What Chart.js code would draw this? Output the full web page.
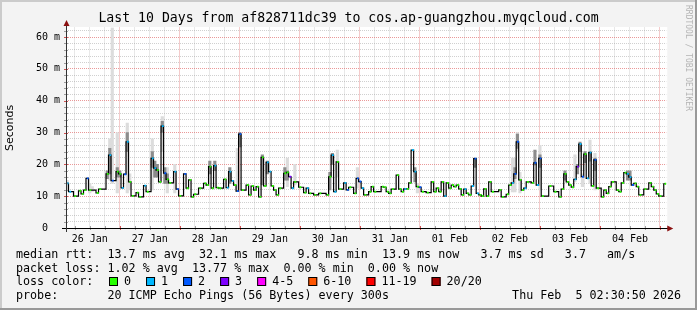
<!DOCTYPE html>
<html><head><meta charset="utf-8">
<script src="https://cdn.jsdelivr.net/npm/chart.js@4.4.1/dist/chart.umd.min.js"></script>
<style>html,body{margin:0;padding:0;background:#f3f3f3;}canvas{display:block;}</style>
</head><body><canvas id="c" width="697" height="310"></canvas>
<script>
// ---- data ----
const dayLabels = ['26 Jan','27 Jan','28 Jan','29 Jan','30 Jan','31 Jan','01 Feb','02 Feb','03 Feb','04 Feb'];
const yLabels = ['0  ','10 m','20 m','30 m','40 m','50 m','60 m'];
// hourly median RTT (ms), first slot starts 26 Jan 02:30
const median = [
14.0,11.4,11.4,10.0,10.0,11.7,10.7,11.9,15.6,11.9,
11.9,11.9,11.0,12.2,12.2,12.2,17.0,22.9,14.9,14.9,
17.7,17.0,12.6,16.9,27.1,14.5,10.1,10.1,11.1,9.8,
9.8,13.3,11.4,11.4,21.9,18.8,18.2,14.5,32.0,17.2,
15.3,14.2,14.2,17.7,12.2,10.1,10.1,17.0,12.5,15.1,
9.8,10.6,10.6,12.5,12.5,14.0,13.5,19.3,12.5,19.6,
12.7,12.5,12.5,15.3,12.7,17.7,14.8,13.5,11.6,29.5,
11.9,11.9,13.5,10.4,13.2,11.9,13.0,9.8,22.2,13.2,
20.6,17.7,13.2,11.9,10.4,12.5,12.5,17.2,17.5,16.1,
12.5,14.5,14.5,12.8,12.8,11.1,12.5,10.9,10.9,10.4,
10.4,10.9,10.9,10.9,10.4,16.1,22.9,11.4,20.8,12.2,
12.2,14.2,12.0,12.8,12.8,10.9,15.6,14.6,12.5,10.4,
10.4,11.4,13.0,11.4,11.4,11.4,13.0,12.8,11.4,10.9,
12.2,12.2,16.6,12.2,11.4,12.3,12.3,14.2,24.5,17.7,
13.0,12.8,11.4,11.4,11.1,11.1,14.5,11.4,12.5,11.4,
14.5,10.0,14.2,12.5,13.5,13.0,13.5,12.3,10.4,12.2,
10.9,10.4,13.2,21.8,10.9,10.4,10.0,12.3,10.0,14.5,
11.4,11.4,11.4,12.0,9.8,9.8,10.6,13.5,14.2,17.0,
27.1,15.1,11.9,12.5,14.5,14.5,14.2,20.5,13.5,21.9,
10.0,10.0,10.0,13.2,13.2,11.4,11.4,9.8,12.2,17.0,
14.5,13.5,12.8,15.3,19.3,26.4,16.1,23.2,15.6,23.7,
13.2,21.4,12.5,12.5,9.8,11.9,10.9,13.0,14.5,14.5,
11.9,11.4,14.2,17.4,17.0,16.0,13.5,14.0,13.0,10.4,
10.4,12.2,12.2,14.2,13.0,11.9,10.7,10.0,10.0,13.9];
// light smoke (full ping spread)
const lightSlots = [0,9,10,17,18,20,24,25,34,38,40,43,68,88,91,108,116,140,178,179,180,181,189,203,206,209,211];
const lightLo    = [12,11,11.5,15,14,11,11,12,12,24,11,11,12,13,13.5,16,12.5,11,11.3,11.3,24,11,12,14.5,13,14,12];
const lightHi    = [15,14,13,28,63,30,33,17,28,35,19,20,25,22,20,24.5,19,14,22,22,30,17.5,26,23,17,27.6,23.5];
// dark smoke (pings close to the median)
const darkSlots = [16,17,20,21,24,34,35,36,38,39,40,57,59,65,69,78,80,87,88,105,106,139,163,179,180,187,189,199,204,205,207,209,211,224,225];
const darkLo    = [15.5,17,16,16,24,19,16,16,30,14,14,17,18,14,25.5,13.5,17,15,15,12,20,14.5,19,15.5,25,19.8,19,15,17,24,20.5,21,18,15,15];
const darkHi    = [18,25,19,18,30,24,21,20,33.5,19,17,21,21,19,30,23,21,19,18,17.5,23.5,19,22,19,29.5,24.5,23,18,20,27,24,24,22,18,18];
// loss class per slot (others are 0)
const lossSlots  = [0,1,2,8,17,18,19,22,23,24,31,34,35,38,39,43,44,47,59,64,65,66,68,69,80,81,89,90,96,106,107,111,112,116,117,118,135,138,139,141,151,159,162,163,164,178,179,180,183,187,188,189,203,204,205,206,208,209,211,224,225,226];
const lossLevels = [1,1,1,2,1,2,2,1,2,1,1,1,1,1,2,1,2,2,1,1,1,1,2,2,1,1,3,1,1,1,1,1,2,2,2,1,1,1,1,2,1,1,1,2,1,1,2,2,1,2,1,2,1,3,1,2,1,1,2,1,1,2];
const lossLabels = ['0','1','2','3','4-5','6-10','11-19','20/20'];
const lossColors = ['#26ff00','#00b8ff','#0059ff','#7e00ff','#ff00ff','#ff5500','#ff0000','#a10000'];

const startHour = 2.5;   // hours after 26 Jan 00:00
const endHour = 242.5;
const xTicks = []; for (let h = 6; h <= 240; h += 6) xTicks.push(h);
const yTicks = []; for (let v = 0; v <= 62; v += 2) yTicks.push(v);

// ---- build datasets ----
const lossOf = new Array(median.length).fill(0);
lossSlots.forEach((s, i) => { lossOf[s] = lossLevels[i]; });
const lineData = median.map((v, j) => ({x: startHour + j, y: v}));
lineData.push({x: endHour, y: median[median.length - 1]});
const markers = [], markerColors = [];
median.forEach((v, j) => {
  if (j === 0 || v !== median[j - 1] || lossOf[j] !== lossOf[j - 1]) {
    markers.push({x: startHour + j + 0.7, y: v});
    markerColors.push(lossColors[lossOf[j]]);
  }
});
const lightData = lightSlots.map((s, i) => ({x: startHour + s + 0.5, y: [lightLo[i], lightHi[i]]}));
const darkData = darkSlots.map((s, i) => ({x: startHour + s + 0.5, y: [darkLo[i], darkHi[i]]}));

const MONO = '"DejaVu Sans Mono"';
const majorGrid = 'rgba(225,110,110,0.7)';
const minorGrid = 'rgba(150,150,150,0.45)';

const framePlugin = {
  id: 'frame',
  beforeDraw(chart) {
    const ctx = chart.ctx, a = chart.chartArea;
    ctx.save();
    ctx.fillStyle = '#f3f3f3';
    ctx.fillRect(0, 0, chart.width, chart.height);
    ctx.fillStyle = '#ffffff';
    ctx.fillRect(a.left, 27, a.right - a.left + 1, a.bottom - 27);
    ctx.restore();
  },
  afterDraw(chart) {
    const ctx = chart.ctx, a = chart.chartArea;
    const xs = chart.scales.x, ys = chart.scales.y;
    ctx.save();
    // small ticks on axes
    xTicks.forEach(h => {
      const px = Math.round(xs.getPixelForValue(h)) + 0.5;
      ctx.strokeStyle = (h % 24 === 0) ? 'rgba(200,40,40,0.8)' : 'rgba(120,120,120,0.7)';
      ctx.beginPath(); ctx.moveTo(px, a.bottom - 2); ctx.lineTo(px, a.bottom + 2); ctx.stroke();
    });
    yTicks.forEach(v => {
      const py = Math.round(ys.getPixelForValue(v)) + 0.5;
      ctx.strokeStyle = (v % 10 === 0) ? 'rgba(200,40,40,0.8)' : 'rgba(120,120,120,0.7)';
      ctx.beginPath(); ctx.moveTo(a.left - 2, py); ctx.lineTo(a.left + 2, py); ctx.stroke();
    });
    // axes
    const ax = Math.round(a.left) + 0.5, ay = Math.round(a.bottom) + 0.5;
    ctx.strokeStyle = '#000'; ctx.lineWidth = 1;
    ctx.beginPath(); ctx.moveTo(a.left - 4, ay); ctx.lineTo(a.right + 2, ay); ctx.stroke();
    ctx.strokeStyle = '#333';
    ctx.beginPath(); ctx.moveTo(ax, a.bottom + 4); ctx.lineTo(ax, 25); ctx.stroke();
    ctx.fillStyle = '#8b1010';
    ctx.beginPath(); ctx.moveTo(ax, 20); ctx.lineTo(ax - 3, 26); ctx.lineTo(ax + 3, 26); ctx.closePath(); ctx.fill();
    ctx.beginPath(); ctx.moveTo(a.right + 7, ay); ctx.lineTo(a.right + 1, ay - 3); ctx.lineTo(a.right + 1, ay + 3); ctx.closePath(); ctx.fill();
    // title
    ctx.fillStyle = '#000';
    ctx.textBaseline = 'middle';
    ctx.textAlign = 'center';
    ctx.font = '13.2px ' + MONO;
    ctx.fillText('Last 10 Days from af828711dc39 to cos.ap-guangzhou.myqcloud.com', 348.5, 19);
    // y title
    ctx.save();
    ctx.translate(10.5, 128); ctx.rotate(-Math.PI / 2);
    ctx.font = '11px "DejaVu Sans"';
    ctx.fillText('Seconds', 0, 0);
    ctx.restore();
    // legend
    ctx.textAlign = 'left';
    ctx.font = '11.7px ' + MONO;
    ctx.fillText('median rtt:  13.7 ms avg  32.1 ms max   9.8 ms min  13.9 ms now   3.7 ms sd   3.7   am/s', 16, 254.5);
    ctx.fillText('packet loss: 1.02 % avg  13.77 % max  0.00 % min  0.00 % now', 16, 268.5);
    ctx.fillText('loss color:', 16, 282);
    let x = 109;
    lossLabels.forEach((lab, i) => {
      ctx.fillStyle = lossColors[i];
      ctx.fillRect(x, 277, 9, 9);
      ctx.strokeStyle = '#000'; ctx.lineWidth = 1;
      ctx.strokeRect(x + 0.5, 277.5, 8, 8);
      ctx.fillStyle = '#000';
      const lx = x + 15;
      ctx.fillText(lab, lx, 282);
      x = lx + ctx.measureText(lab).width + 15;
    });
    ctx.fillText('probe:       20 ICMP Echo Pings (56 Bytes) every 300s', 16, 296);
    ctx.textAlign = 'right';
    ctx.fillText('Thu Feb  5 02:30:50 2026', 681, 296);
    // rrdtool watermark
    ctx.save();
    ctx.translate(688, 5); ctx.rotate(Math.PI / 2);
    ctx.textAlign = 'left';
    ctx.font = '8px ' + MONO;
    ctx.fillStyle = '#b4b4b4';
    ctx.fillText('RRDTOOL / TOBI OETIKER', 0, 0);
    ctx.restore();
    // frame
    ctx.fillStyle = '#cbcbcb';
    ctx.fillRect(0, 0, chart.width, 2); ctx.fillRect(0, 0, 2, chart.height);
    ctx.fillStyle = '#999999';
    ctx.fillRect(0, chart.height - 2, chart.width, 2); ctx.fillRect(chart.width - 2, 0, 2, chart.height);
    ctx.restore();
  }
};

new Chart(document.getElementById('c'), {
  type: 'bar',
  data: {datasets: [
    {type: 'line', data: markers, showLine: false, pointStyle: 'rect', pointRadius: 1.3,
     pointBackgroundColor: markerColors, pointBorderWidth: 0, order: 0},
    {type: 'line', data: lineData, stepped: true, borderColor: '#000', borderWidth: 1.2,
     pointRadius: 0, fill: false, order: 1},
    {type: 'bar', data: darkData, backgroundColor: '#8c8c8c', grouped: false,
     barPercentage: 1, categoryPercentage: 1, borderWidth: 0, order: 2},
    {type: 'bar', data: lightData, backgroundColor: '#dcdcdc', grouped: false,
     barPercentage: 1, categoryPercentage: 1, borderWidth: 0, order: 3}
  ]},
  options: {
    responsive: false, animation: false, devicePixelRatio: 1, events: [],
    layout: {padding: {left: 0, right: 30.75, top: 27.5, bottom: 62}},
    plugins: {legend: {display: false}, tooltip: {enabled: false}},
    scales: {
      x: {
        type: 'linear', min: startHour, max: endHour, bounds: 'data', offset: false,
        afterFit: s => { s.height = 20; },
        afterBuildTicks: s => { s.ticks = xTicks.map(v => ({value: v})); },
        ticks: {autoSkip: false, maxRotation: 0, minRotation: 0, padding: 5, color: '#000',
          font: {family: 'DejaVu Sans Mono', size: 10},
          callback: v => ((v - 12) % 24 === 0 ? dayLabels[(v - 12) / 24] : '')},
        grid: {offset: false, drawTicks: false, lineWidth: 1,
          color: c => (c.tick && c.tick.value % 24 === 0 ? majorGrid : minorGrid)},
        border: {display: false, dash: [1, 1]}
      },
      y: {
        type: 'linear', min: 0, max: 63, bounds: 'data',
        afterFit: s => { s.width = 66; },
        afterBuildTicks: s => { s.ticks = yTicks.map(v => ({value: v})); },
        ticks: {autoSkip: false, padding: 6, color: '#000',
          font: {family: 'DejaVu Sans Mono', size: 10},
          callback: v => (v % 10 === 0 ? yLabels[v / 10] : '')},
        grid: {drawTicks: false, lineWidth: 1,
          color: c => (c.tick && c.tick.value % 10 === 0 ? majorGrid : minorGrid)},
        border: {display: false, dash: [1, 1]}
      }
    }
  },
  plugins: [framePlugin]
});
</script>
</body></html>
